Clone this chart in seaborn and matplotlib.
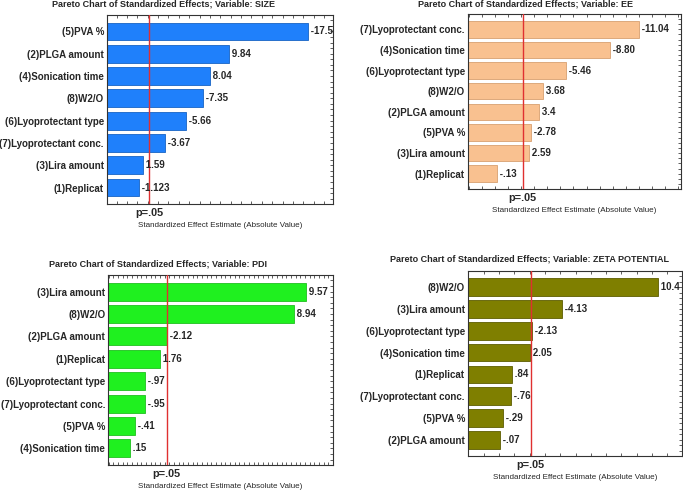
import numpy as np
import pandas as pd
import matplotlib
matplotlib.use("Agg")
import matplotlib.pyplot as plt
import seaborn as sns
from matplotlib.ticker import MultipleLocator

# DATA (effects, sorted as shown)
size_factors = ["(5)PVA %", "(2)PLGA amount", "(4)Sonication time", "(8)W2/O",
                "(6)Lyoprotectant type", "(7)Lyoprotectant conc.", "(3)Lira amount", "(1)Replicat"]
size_effects = [-17.5, 9.84, 8.04, -7.35, -5.66, -3.67, 1.59, -1.123]
size_labels = ["-17.5", "9.84", "8.04", "-7.35", "-5.66", "-3.67", "1.59", "-1.123"]

ee_factors = ["(7)Lyoprotectant conc.", "(4)Sonication time", "(6)Lyoprotectant type", "(8)W2/O",
              "(2)PLGA amount", "(5)PVA %", "(3)Lira amount", "(1)Replicat"]
ee_effects = [-11.04, -8.80, -5.46, 3.68, 3.4, -2.78, 2.59, -0.13]
ee_labels = ["-11.04", "-8.80", "-5.46", "3.68", "3.4", "-2.78", "2.59", "-.13"]

pdi_factors = ["(3)Lira amount", "(8)W2/O", "(2)PLGA amount", "(1)Replicat",
               "(6)Lyoprotectant type", "(7)Lyoprotectant conc.", "(5)PVA %", "(4)Sonication time"]
pdi_effects = [9.57, 8.94, -2.12, 1.76, -0.97, -0.95, -0.41, 0.15]
pdi_labels = ["9.57", "8.94", "-2.12", "1.76", "-.97", "-.95", "-.41", ".15"]

zeta_factors = ["(8)W2/O", "(3)Lira amount", "(6)Lyoprotectant type", "(4)Sonication time",
                "(1)Replicat", "(7)Lyoprotectant conc.", "(5)PVA %", "(2)PLGA amount"]
zeta_effects = [10.4, -4.13, -2.13, 2.05, 0.84, -0.76, -0.29, -0.07]
zeta_labels = ["10.4", "-4.13", "-2.13", "2.05", ".84", "-.76", "-.29", "-.07"]

variables = ["SIZE", "EE", "PDI", "ZETA POTENTIAL"]
t_crit = [2.15, 2.12, 2.11, 2.07]   # p=.05 line position

sns.set_style("white")
plt.rcParams["font.family"] = ["Liberation Sans", "DejaVu Sans"]

fig = plt.figure(figsize=(6.83, 4.92), dpi=100)
W, H = 683, 492

# panel layout in pixels: left, right, top, bottom; x range; title centre
panels = [
    (size_factors, size_effects, size_labels, "#1f80fb", "#1763c4", (106.7, 333.3, 15, 204), (-1.96, 19.9), (164, 4), 1.0),
    (ee_factors, ee_effects, ee_labels, "#f9c190", "#d8a070", (467.7, 680.7, 14, 189), (-2.09, 14.2), (525, 4), 1.0),
    (pdi_factors, pdi_effects, pdi_labels, "#1ff01f", "#20c020", (108, 333, 275, 465), (-1.03, 11.0), (158, 264), 0.25),
    (zeta_factors, zeta_effects, zeta_labels, "#7f7f00", "#5c5c00", (467.7, 681.7, 271, 456), (-2.04, 11.93), (530, 259), 1.0),
]

for i, (factors, effects, labels, color, edge, box, xl, tpos, step) in enumerate(panels):
    l, r, t, b = box
    ax = fig.add_axes([l / W, 1 - b / H, (r - l) / W, (b - t) / H])
    df = pd.DataFrame({"factor": factors, "effect": np.abs(effects)})
    ax.grid(axis="y", color="#d8d8d8", lw=0.8, zorder=0)
    ax.set_axisbelow(True)
    sns.barplot(data=df, x="effect", y="factor", orient="h", color=color,
                saturation=1, width=0.8, edgecolor=edge, linewidth=0.6, ax=ax, zorder=2)
    # bars start at the left edge of the axis, as in the original software
    for p in ax.patches:
        w = p.get_width()
        p.set_x(xl[0])
        p.set_width(w - xl[0])
    for j, (v, s) in enumerate(zip(df["effect"], labels)):
        ax.text(v, j, " " + s, va="center", ha="left",
                fontsize=7, fontweight="bold", zorder=4)
    ax.axvline(t_crit[i], color="#e03030", lw=1, zorder=3)
    ax.set_xlim(*xl)
    ax.set_ylim(7.74, -0.74)
    ax.set_ylabel("")
    ax.set_xlabel("Standardized Effect Estimate (Absolute Value)", fontsize=5.8, labelpad=3)
    ax.set_xticks([t_crit[i]])
    ax.set_xticklabels(["p=.05"], fontsize=7.8, fontweight="bold")
    ax.xaxis.set_minor_locator(MultipleLocator(step))
    ax.tick_params(axis="x", which="major", length=0, pad=3)
    ax.tick_params(axis="x", which="minor", direction="in", length=2, width=0.6,
                   top=True, bottom=True, color="#444444")
    ax.yaxis.set_minor_locator(MultipleLocator(0.25))
    ax.tick_params(axis="y", which="both", left=False, right=True, direction="in",
                   length=2, width=0.6, color="#444444", pad=2)
    for lab in ax.get_yticklabels():
        lab.set_fontsize(7)
        lab.set_fontweight("bold")
    for sp in ax.spines.values():
        sp.set_color("#333333")
        sp.set_linewidth(0.8)
    fig.text(tpos[0] / W, 1 - tpos[1] / H,
             "Pareto Chart of Standardized Effects; Variable: " + variables[i],
             ha="center", va="center", fontsize=6.5, fontweight="bold")

fig.savefig("out.png", dpi=100)
